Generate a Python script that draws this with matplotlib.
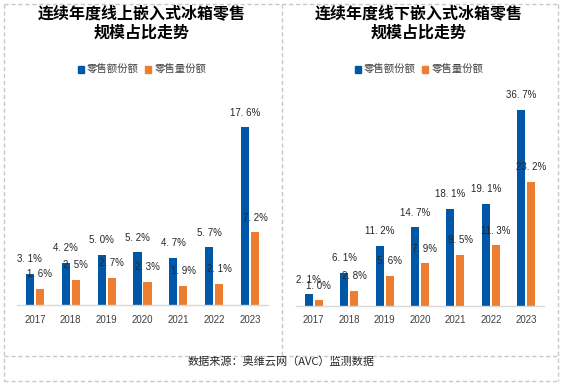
import matplotlib
matplotlib.use("Agg")
import matplotlib.pyplot as plt
from matplotlib.patches import Patch
from matplotlib.lines import Line2D
import numpy as np

plt.rcParams['font.family'] = ['Noto Sans CJK SC', 'DejaVu Sans']

years = ["2017", "2018", "2019", "2020", "2021", "2022", "2023"]
online_amount = [3.1, 4.2, 5.0, 5.2, 4.7, 5.7, 17.6]
online_volume = [1.6, 2.5, 2.7, 2.3, 1.9, 2.1, 7.2]
offline_amount = [2.1, 6.1, 11.2, 14.7, 18.1, 19.1, 36.7]
offline_volume = [1.0, 2.8, 5.6, 7.9, 9.5, 11.3, 23.2]

title_left = "连续年度线上嵌入式冰箱零售\n规模占比走势"
title_right = "连续年度线下嵌入式冰箱零售\n规模占比走势"
legend_labels = ["零售额份额", "零售量份额"]
source_text = "数据来源：奥维云网（AVC）监测数据"

BLUE = "#0057A8"
ORANGE = "#ED7D31"
W, H = 562, 387
fig = plt.figure(figsize=(W / 100, H / 100), dpi=100)


def px_axes(x0, x1, ytop, ybot):
    return fig.add_axes([x0 / W, 1 - ybot / H, (x1 - x0) / W, (ybot - ytop) / H])


def fmt(v):
    return f"{v:.1f}%".replace(".", ". ")


def panel(ax, amt, vol, ymax):
    x = np.arange(len(years))
    bw = 0.225
    off = 0.14
    ax.bar(x - off, amt, bw, color=BLUE)
    ax.bar(x + off, vol, bw, color=ORANGE)
    for xi, a, v in zip(x, amt, vol):
        ax.annotate(fmt(a), (xi - off, a), xytext=(0, 10.5), textcoords="offset points",
                    ha="center", va="center", fontsize=7, color="#262626",
                    family=["Liberation Sans", "DejaVu Sans"])
        ax.annotate(fmt(v), (xi + off, v), xytext=(0, 10.5), textcoords="offset points",
                    ha="center", va="center", fontsize=7, color="#262626",
                    family=["Liberation Sans", "DejaVu Sans"])
    ax.set_xlim(-0.5, len(years) - 0.5)
    ax.set_ylim(0, ymax)
    ax.set_xticks(x)
    ax.set_xticklabels(years, fontsize=7, color="#404040", family=["Liberation Sans", "DejaVu Sans"])
    ax.tick_params(axis="x", length=0, pad=7)
    ax.set_yticks([])
    for s in ["top", "right", "left"]:
        ax.spines[s].set_visible(False)
    ax.spines["bottom"].set_color("#D9D9D9")
    ax.spines["bottom"].set_linewidth(1)


axL = px_axes(17, 268, 100, 305)
panel(axL, online_amount, online_volume, 205 / 10.1)
axR = px_axes(296, 544, 100, 305.5)
panel(axR, offline_amount, offline_volume, 205.5 / 5.33)

for cx, t in [(142, title_left), (419, title_right)]:
    fig.text(cx / W, 1 - 23 / H, t, ha="center", va="center", fontsize=11.5,
             fontweight="bold", color="black", linespacing=1.25)

handles = [Patch(color=BLUE), Patch(color=ORANGE)]
for cx in [142, 419]:
    fig.legend(handles, legend_labels, loc="center", bbox_to_anchor=(cx / W, 1 - 70 / H),
               ncol=2, frameon=False, fontsize=7.5, handlelength=0.6, handleheight=0.6,
               handletextpad=0.3, columnspacing=0.6, labelcolor="#404040")

fig.text(281 / W, 1 - 362 / H, source_text, ha="center", va="center", fontsize=8, color="#262626")

dash = dict(color="#C8C8C8", lw=1, linestyle=(0, (3, 2)), transform=None)


def fline(xs, ys):
    fig.add_artist(Line2D([x / W for x in xs], [1 - y / H for y in ys], color="#C8C8C8",
                          lw=1, linestyle=(0, (3, 2)), transform=fig.transFigure))


fline([4, 558], [3.5, 3.5])
fline([4, 558], [381, 381])
fline([4, 4], [3.5, 381])
fline([558, 558], [3.5, 381])
fline([281.5, 281.5], [3.5, 356])
fline([4, 558], [356, 356])

fig.savefig("out.png", dpi=100)
